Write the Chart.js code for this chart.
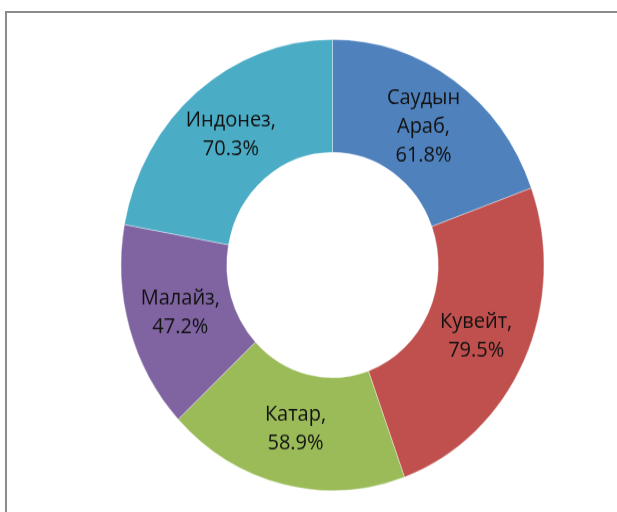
<!DOCTYPE html>
<html>
<head>
<meta charset="utf-8">
<script src="https://cdn.jsdelivr.net/npm/chart.js@4.4.0/dist/chart.umd.min.js"></script>
<style>
    body { margin: 0; background: #fff; overflow: hidden; }
    #frame {
        position: absolute;
        left: 5px;
        top: 11px;
        width: 700px;
        height: 600px;
        border-left: 2px solid #8c8c8c;
        border-top: 2px solid #8c8c8c;
    }
    #donutChart {
        position: absolute;
        left: 0;
        top: 0;
        transform: scaleY(1.066);
        transform-origin: 332.5px 265px;
    }
</style>
</head>
<body>
<div id="frame"></div>
<canvas id="donutChart" width="617" height="512"></canvas>
<script>
const countries = ['Саудын Араб', 'Кувейт', 'Катар', 'Малайз', 'Индонез'];
const shares = [61.8, 79.5, 58.9, 47.2, 70.3];
const sliceColors = ['#4f81bd', '#c0504d', '#9bbb59', '#8064a2', '#4bacc6'];

// подписи в середине каждого сектора
const sliceLabels = {
    id: 'sliceLabels',
    afterDatasetsDraw(chart) {
        const ctx = chart.ctx;
        const meta = chart.getDatasetMeta(0);
        const lineH = 27;

        ctx.save();
        ctx.font = '20px "Open Sans"';
        ctx.fillStyle = '#111';
        ctx.textAlign = 'center';
        ctx.textBaseline = 'middle';

        meta.data.forEach((arc, i) => {
            const p = arc.tooltipPosition();
            const words = countries[i].split(' ');
            words[words.length - 1] += ',';
            const lines = words.concat([shares[i].toFixed(1) + '%']);

            lines.forEach((t, j) => {
                ctx.fillText(t, p.x, p.y + (j - (lines.length - 1) / 2) * lineH);
            });
        });
        ctx.restore();
    }
};

new Chart(document.getElementById('donutChart'), {
    type: 'doughnut',
    data: {
        labels: countries,
        datasets: [{
            data: shares,
            backgroundColor: sliceColors,
            borderColor: 'rgba(255,255,255,0.35)',
            borderWidth: 1
        }]
    },
    options: {
        responsive: false,
        animation: false,
        cutout: '50%',
        layout: {
            padding: { left: 120, right: 72, top: 53, bottom: 35 }
        },
        plugins: {
            legend: { display: false },
            tooltip: { enabled: false }
        }
    },
    plugins: [sliceLabels]
});
</script>
</body>
</html>
